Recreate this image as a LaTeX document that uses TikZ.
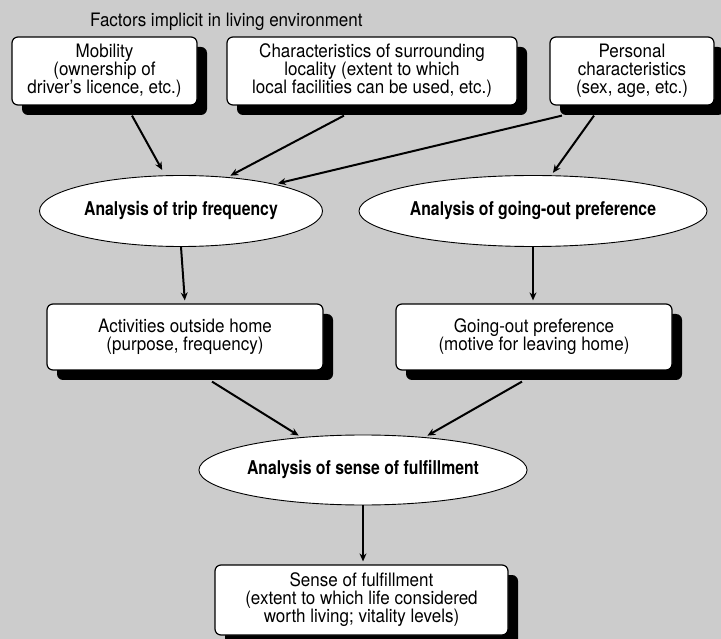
\documentclass[tikz,border=0pt]{standalone}
\usepackage{fontspec}
\setmainfont[FakeStretch=0.92]{TeX Gyre Heros}
\newfontfamily\boldcn[FakeStretch=0.83]{TeX Gyre Heros}
\usetikzlibrary{shapes.geometric,arrows.meta,shadows}
\definecolor{bg}{RGB}{204,204,204}
\tikzset{
  box/.style={draw=black, line width=1.2pt, fill=white, rounded corners=6pt, align=center,
    inner sep=0pt, font=\fontsize{18.5}{18}\selectfont,
    drop shadow={shadow xshift=10pt, shadow yshift=-10pt, opacity=1, fill=black}},
  oval/.style={ellipse, draw=black, line width=0.9pt, fill=white, inner sep=0pt,
    minimum width=283pt, minimum height=71pt, font=\fontsize{19}{20}\boldcn\bfseries},
  arr/.style={line width=2pt, shorten >=3pt, -{Stealth[length=8pt,width=7pt]}}
}
\begin{document}
\begin{tikzpicture}[x=1pt,y=-1pt]
\fill[bg] (0,0) rectangle (721,639);
\useasboundingbox (0,0) rectangle (721,639);
\node[anchor=base west, font=\fontsize{18.5}{18}\selectfont, inner sep=0pt] (title) at (90,27) {Factors implicit in living environment};
\node[box, minimum width=185pt, minimum height=68pt] (mob) at (104.5,71) {Mobility\\(ownership of\\driver’s licence, etc.)};
\node[box, minimum width=290pt, minimum height=68pt] (loc) at (372,71) {Characteristics of surrounding\\locality (extent to which\\local facilities can be used, etc.)};
\node[box, minimum width=164pt, minimum height=68pt] (pers) at (632,71) {Personal\\characteristics\\(sex, age, etc.)};
\node[oval] (e1) at (181,211) {Analysis of trip frequency};
\node[oval] (e2) at (533,211) {Analysis of going-out preference};
\node[box, minimum width=276pt, minimum height=66pt] (act) at (185,337) {Activities outside home\\(purpose, frequency)};
\node[box, minimum width=276pt, minimum height=66pt] (go) at (534,337) {Going-out preference\\(motive for leaving home)};
\node[oval, minimum height=70pt] (e3) at (363,470) {Analysis of sense of fulfillment};
\node[box, minimum width=293pt, minimum height=70pt] (sense) at (361.5,600) {Sense of fulfillment\\(extent to which life considered\\worth living; vitality levels)};
\draw[arr, shorten >=6pt] ([shift={(27.5,10)}]mob.south) -- (e1.114);
\draw[arr] ([shift={(-28,10)}]loc.south) -- (e1.36);
\draw[arr] ([shift={(-70,10)}]pers.south) -- (e1.16);
\draw[arr] ([shift={(-38,10)}]pers.south) -- (e2.63);
\draw[arr] (e1.south) -- (act.north);
\draw[arr] (e2.south) -- (e2.south |- go.north);
\draw[arr] ([shift={(27,11)}]act.south) -- (e3.152);
\draw[arr] ([shift={(-12,11)}]go.south) -- (e3.28);
\draw[arr] (e3.south) -- (e3.south |- sense.north);
\end{tikzpicture}
\end{document}
